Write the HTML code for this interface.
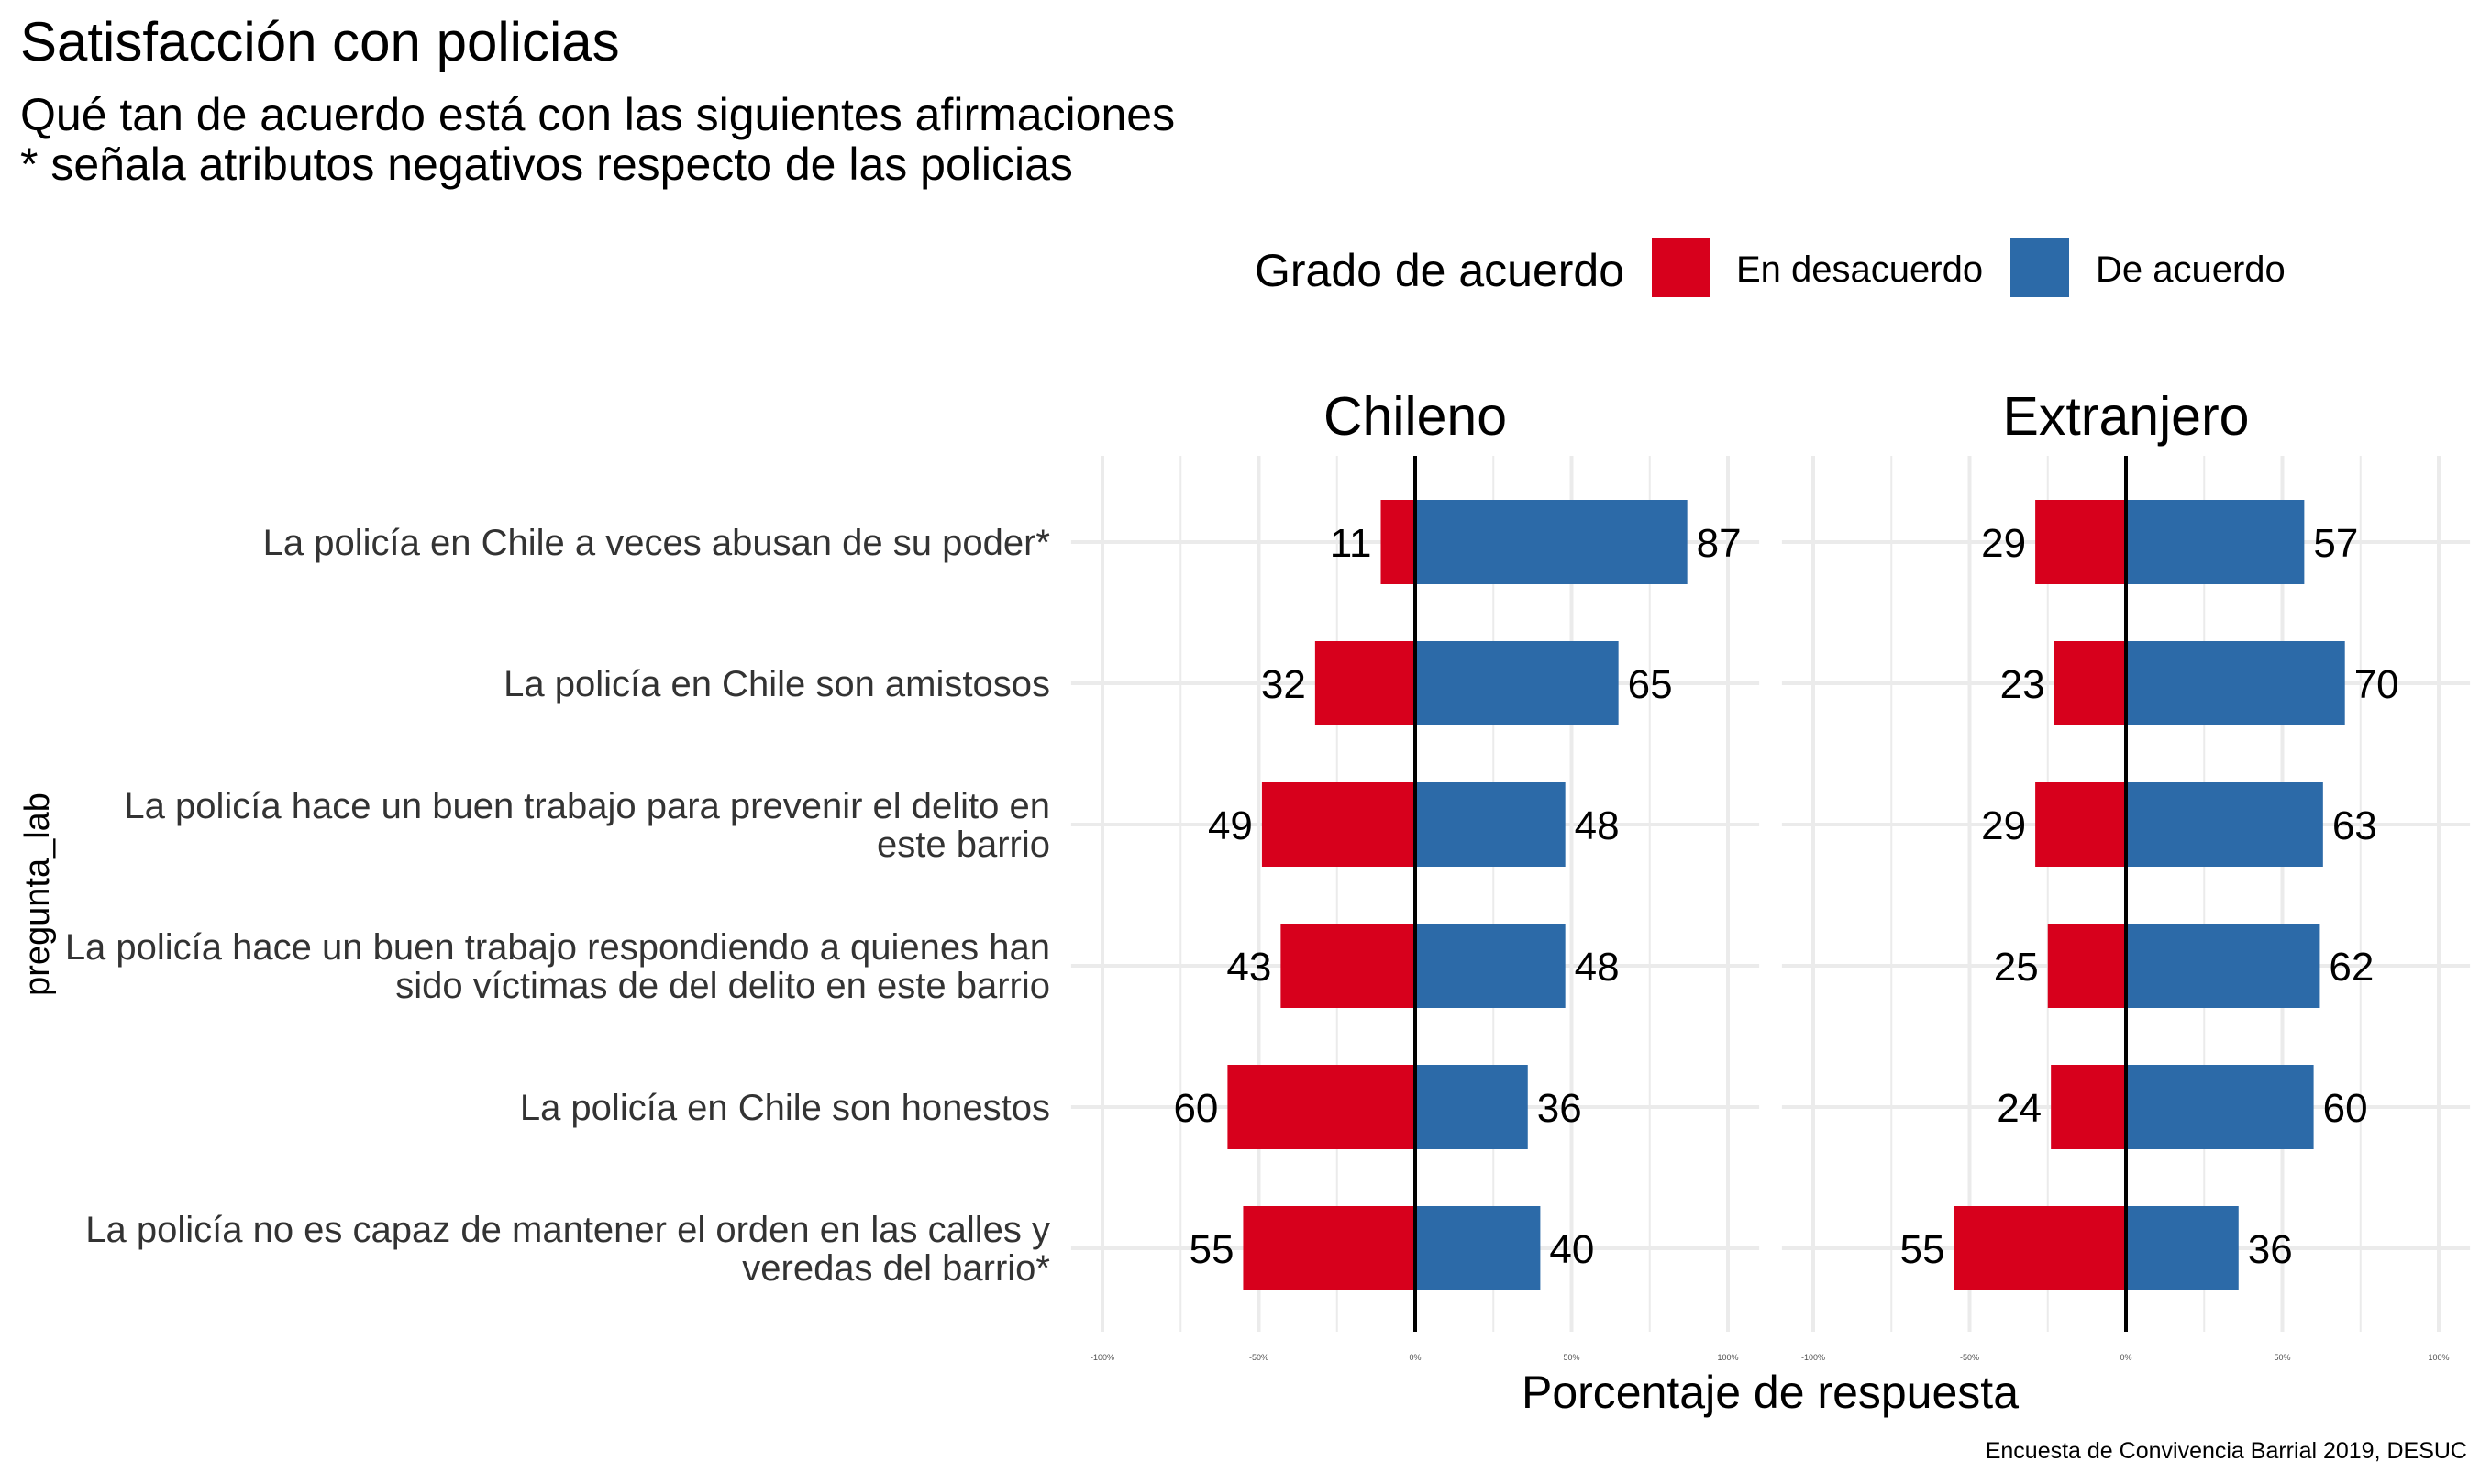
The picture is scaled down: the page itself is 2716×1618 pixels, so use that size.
<!DOCTYPE html>
<html><head><meta charset="utf-8"><style>
html,body{margin:0;padding:0;background:#fff;}
svg{display:block;font-family:"Liberation Sans",Arial,sans-serif;}
</style></head><body>
<svg id="chart" width="2716" height="1618" viewBox="0 0 2716 1618" xmlns="http://www.w3.org/2000/svg">
<text x="22" y="66" font-size="60" fill="#000">Satisfacción con policias</text>
<text x="22" y="142" font-size="50" fill="#000">Qué tan de acuerdo está con las siguientes afirmaciones</text>
<text x="22" y="196" font-size="50" fill="#000">* señala atributos negativos respecto de las policias</text>
<g>
<text x="1368" y="312" font-size="50" fill="#000">Grado de acuerdo</text>
<rect x="1801" y="260" width="64" height="64" fill="#D7001C"/>
<text x="1893" y="307" font-size="40" fill="#000">En desacuerdo</text>
<rect x="2192" y="260" width="64" height="64" fill="#2C6AA8"/>
<text x="2285" y="307" font-size="40" fill="#000">De acuerdo</text>
</g>
<text transform="translate(53,975) rotate(-90)" text-anchor="middle" font-size="38" fill="#000">pregunta_lab</text>
<text x="1930" y="1535" text-anchor="middle" font-size="50" fill="#000">Porcentaje de respuesta</text>
<text x="2690" y="1590" text-anchor="end" font-size="25" fill="#000">Encuesta de Convivencia Barrial 2019, DESUC</text>
<g id="plot"></g>
</svg>
<script>
const questions = [
  ["La policía en Chile a veces abusan de su poder*"],
  ["La policía en Chile son amistosos"],
  ["La policía hace un buen trabajo para prevenir el delito en","este barrio"],
  ["La policía hace un buen trabajo respondiendo a quienes han","sido víctimas de del delito en este barrio"],
  ["La policía en Chile son honestos"],
  ["La policía no es capaz de mantener el orden en las calles y","veredas del barrio*"]
];
const panels = ["Chileno","Extranjero"];
const disagreeChileno = [11,32,49,43,60,55];
const agreeChileno = [87,65,48,48,36,40];
const disagreeExtranjero = [29,23,29,25,24,55];
const agreeExtranjero = [57,70,63,62,60,36];
const xTicks = [-100,-50,0,50,100];
const xTickLabels = ["-100%","-50%","0%","50%","100%"];
const minorTicks = [-75,-25,25,75];

const NS="http://www.w3.org/2000/svg";
const plot=document.getElementById('plot');
function mk(tag,attrs,parent){const e=document.createElementNS(NS,tag);for(const k in attrs)e.setAttribute(k,attrs[k]);(parent||plot).appendChild(e);return e;}
const zeros=[1543,2318], pxPer=3.41, yTop=497, yBot=1452;
function yPos(i){return 591+i*154;}
const barH=92;
const data=[[disagreeChileno,agreeChileno],[disagreeExtranjero,agreeExtranjero]];

panels.forEach((p,pi)=>{
  const x=v=>zeros[pi]+v*pxPer;
  const g=mk('g',{});
  
  
  const left=x(-110), right=x(110);
  minorTicks.forEach(t=>{const l=mk('line',{x1:x(t),x2:x(t),y1:yTop,y2:yBot,stroke:'#ebebeb','stroke-width':2},g);
    });
  xTicks.forEach((t,ti)=>{const l=mk('line',{x1:x(t),x2:x(t),y1:yTop,y2:yBot,stroke:'#ebebeb','stroke-width':4},g);
    
    const tx=mk('text',{x:x(t),y:1483,'text-anchor':'middle','font-size':9,fill:'#4d4d4d'},g);
    tx.textContent=xTickLabels[ti];
    });
  questions.forEach((q,i)=>{const l=mk('line',{x1:left,x2:right,y1:yPos(i),y2:yPos(i),stroke:'#ebebeb','stroke-width':4},g);
    });
  const t=mk('text',{x:zeros[pi],y:474,'text-anchor':'middle','font-size':59,fill:'#000'},g);
  t.textContent=p;
  
  const [dis,agr]=data[pi];
  questions.forEach((q,i)=>{
    const yc=yPos(i);
    const r1=mk('rect',{x:x(-dis[i]),y:yc-barH/2,width:dis[i]*pxPer,height:barH,fill:'#D7001C'},g);
    
    const r2=mk('rect',{x:x(0),y:yc-barH/2,width:agr[i]*pxPer,height:barH,fill:'#2C6AA8'},g);
    
    const l1=mk('text',{x:x(-dis[i])-10,y:yc+16,'text-anchor':'end','font-size':44,fill:'#000'},g);
    l1.textContent=dis[i];
    
    const l2=mk('text',{x:x(agr[i])+10,y:yc+16,'text-anchor':'start','font-size':44,fill:'#000'},g);
    l2.textContent=agr[i];
    
  });
  const z=mk('line',{x1:x(0),x2:x(0),y1:yTop,y2:yBot,stroke:'#000','stroke-width':4},g);
  
});
questions.forEach((q,i)=>{
  const yc=yPos(i);
  const t=mk('text',{x:1145,'text-anchor':'end','font-size':40,fill:'#333'});
  
  q.forEach((line,li)=>{const ts=mk('tspan',{x:1145,y:yc+14+(li-(q.length-1)/2)*42},t);ts.textContent=line;});
});
</script>
</body></html>
